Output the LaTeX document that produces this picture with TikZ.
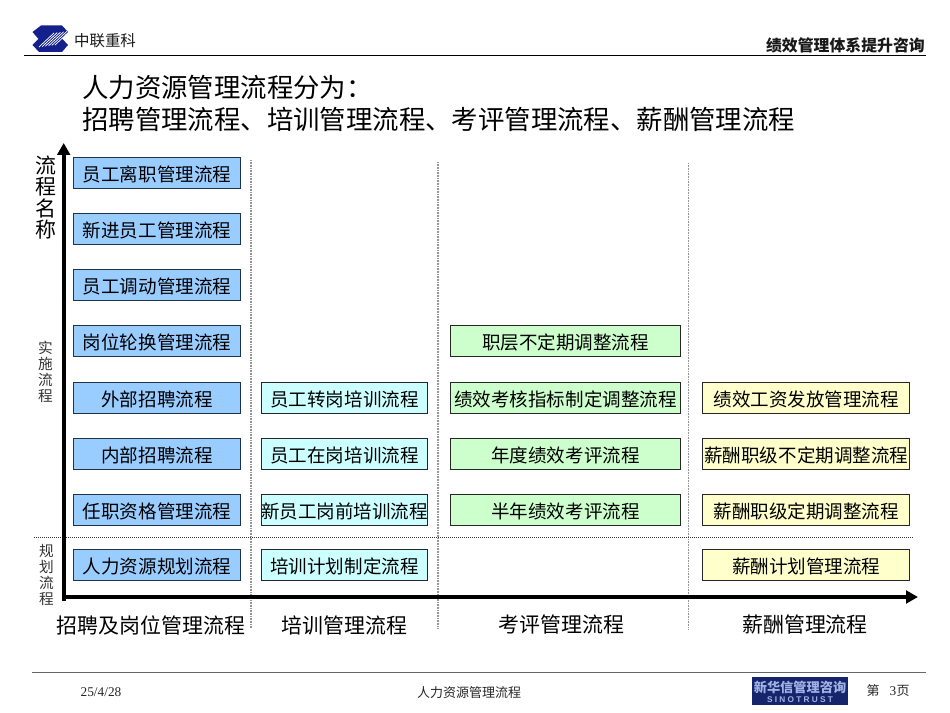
\documentclass[tikz,border=0pt]{standalone}
\usepackage{fontspec}
\setmainfont{Liberation Serif}
\newfontfamily\cjk{Noto Sans CJK SC}
\newfontfamily\latinsans{Liberation Sans}
\usetikzlibrary{arrows.meta,positioning}
\definecolor{bluefill}{HTML}{99CCFF}
\definecolor{cyanfill}{HTML}{CCFFFF}
\definecolor{greenfill}{HTML}{CCFFCC}
\definecolor{yellowfill}{HTML}{FFFFCC}
\definecolor{edgeblue}{HTML}{1F3347}
\definecolor{navy}{HTML}{16246B}
\definecolor{logoblue}{HTML}{14208C}
\definecolor{logotext}{HTML}{A3B2E6}
\tikzset{
  x=0.75pt,y=-0.75pt,
  procbox/.style={draw=black!85,line width=0.75pt,minimum height=23.5pt,inner sep=0pt,outer sep=0pt,text height=13pt,text depth=1pt,font=\cjk\fontsize{13.9pt}{15pt}\selectfont,text=black},
  hrbox/.style={procbox,fill=bluefill,draw=edgeblue,minimum width=124.6pt},
  trainbox/.style={procbox,fill=cyanfill,minimum width=124.6pt},
  evalbox/.style={procbox,fill=greenfill,minimum width=172.8pt},
  paybox/.style={procbox,fill=yellowfill,minimum width=155pt},
  vline/.style={dash pattern=on 0.6pt off 0.6pt,line width=1pt,black!42},
  hline/.style={dash pattern=on 0.75pt off 0.75pt,line width=0.75pt,black!80},
  axisline/.style={line width=3pt,black,-{Triangle[length=9pt,width=9.5pt]}},
  collabel/.style={font=\cjk\fontsize{15.7pt}{17pt}\selectfont,inner sep=0pt},
  vlabel/.style={font=\cjk\fontsize{15.7pt}{15.9pt}\selectfont,align=center,inner sep=0pt},
  smalllabel/.style={font=\cjk\fontsize{11pt}{12pt}\selectfont,align=center,inner sep=0pt,text=black!80},
  titletext/.style={font=\cjk\fontsize{19.8pt}{24pt}\selectfont,anchor=west,align=left,inner sep=0pt},
  footertext/.style={font=\fontsize{10pt}{11pt}\selectfont,inner sep=0pt,text=black!85},
  footercjk/.style={footertext,font=\cjk\fontsize{9.75pt}{11pt}\selectfont},
  rulethin/.style={line width=1pt,black!60}
}
\begin{document}
\begin{tikzpicture}
\useasboundingbox (0,0) rectangle (950,713);
% header logo
\fill[logoblue] (41,25.5) -- (62,25.5) -- (68,32) -- (62,38.5) -- (68,45) -- (62,52) -- (39,52) -- (32.5,45) -- (38.5,39) -- (32.5,32) -- cycle;
\foreach \i in {0,1,2,3,4,5}{\draw[white,line width=0.55pt] (39+3.2*\i,47-0.4*\i) -- (54+3.2*\i,33-0.4*\i);}
\node[font=\cjk\fontsize{11.6pt}{13pt}\selectfont,inner sep=0pt,text=black!90] (brand) at (105,41) {中联重科};
\node[font=\cjk\bfseries\fontsize{11.9pt}{13pt}\selectfont,inner sep=0pt,anchor=east,text=black!90] (hdr) at (925,45) {绩效管理体系提升咨询};
\draw[line width=0.8pt,black] (24,55.5) -- (926,55.5);
% title
\node[titletext] (t1) at (82,87.5) {人力资源管理流程分为：};
\node[titletext] (t2) at (82,119) {招聘管理流程、培训管理流程、考评管理流程、薪酬管理流程};
% grid lines
\coordinate (va1) at (251,160); \coordinate (vb1) at (251,628);
\coordinate (va2) at (438,162); \coordinate (vb2) at (438,628);
\coordinate (va3) at (688.5,163); \coordinate (vb3) at (688.5,629);
\draw[vline] (va1) -- (vb1);
\draw[vline] (va2) -- (vb2);
\draw[vline] (va3) -- (vb3);
\coordinate (ha) at (34,537.5); \coordinate (hb) at (913,537.5);
\draw[hline] (ha) -- (hb);
% axes
\coordinate (ytop) at (63.7,143);
\coordinate (xend) at (918,597);
\draw[axisline] (63.7,601) -- (ytop);
\draw[axisline] (62,597) -- (xend);
% axis labels
\node[vlabel] (yl) at (46,197.5) {流\\程\\名\\称};
\node[smalllabel] (s1) at (45.5,372) {实\\施\\流\\程};
\node[smalllabel] (s2) at (46.5,575) {规\\划\\流\\程};
% column 1
\node[hrbox] (a1) at (157,173.3) {员工离职管理流程};
\node[hrbox] (a2) at (157,229.3) {新进员工管理流程};
\node[hrbox] (a3) at (157,285.3) {员工调动管理流程};
\node[hrbox] (a4) at (157,341.3) {岗位轮换管理流程};
\node[hrbox] (a5) at (157,398.3) {外部招聘流程};
\node[hrbox] (a6) at (157,454.3) {内部招聘流程};
\node[hrbox] (a7) at (157,510.3) {任职资格管理流程};
\node[hrbox] (a8) at (157,565.3) {人力资源规划流程};
% column 2
\node[trainbox] (b1) at (344.5,398.3) {员工转岗培训流程};
\node[trainbox] (b2) at (344.5,454.3) {员工在岗培训流程};
\node[trainbox] (b3) at (344.5,510.3) {新员工岗前培训流程};
\node[trainbox] (b4) at (344.5,565.3) {培训计划制定流程};
% column 3
\node[evalbox] (c1) at (565.5,341.3) {职层不定期调整流程};
\node[evalbox] (c2) at (565.5,398.3) {绩效考核指标制定调整流程};
\node[evalbox] (c3) at (565.5,454.3) {年度绩效考评流程};
\node[evalbox] (c4) at (565.5,510.3) {半年绩效考评流程};
% column 4
\node[paybox] (d1) at (806.3,398.3) {绩效工资发放管理流程};
\node[paybox] (d2) at (806.3,454.3) {薪酬职级不定期调整流程};
\node[paybox] (d3) at (806.3,510.3) {薪酬职级定期调整流程};
\node[paybox] (d4) at (806.3,565.3) {薪酬计划管理流程};
% column labels
\node[collabel] (l1) at (151,625) {招聘及岗位管理流程};
\node[collabel] (l2) at (344.5,625) {培训管理流程};
\node[collabel] (l3) at (561.5,625) {考评管理流程};
\node[collabel] (l4) at (805,625) {薪酬管理流程};
% footer
\draw[rulethin] (32,672.7) -- (926,672.7);
\node[footertext] (f1) at (101,692.5) {25/4/28};
\node[footercjk] (f2) at (469,692.5) {人力资源管理流程};
\node[fill=navy,minimum width=72pt,minimum height=21.5pt,inner sep=0pt] (logo) at (800,691) {};
\node[font=\cjk\bfseries\fontsize{9.9pt}{10pt}\selectfont,text=logotext,inner sep=0pt] (logoa) at (800,687) {新华信管理咨询};
\node[font=\latinsans\bfseries\fontsize{6.2pt}{7pt}\selectfont,text=logotext,inner sep=0pt] (logob) at (800,699.5) {S\hspace{1.7pt}I\hspace{1.7pt}N\hspace{1.7pt}O\hspace{1.7pt}T\hspace{1.7pt}R\hspace{1.7pt}U\hspace{1.7pt}S\hspace{1.7pt}T};
\node[footercjk] (f3) at (873,691) {第};
\node[footertext] (f4) at (893,691.5) {3};
\node[footercjk] (f5) at (903,691) {页};
\end{tikzpicture}
\end{document}
